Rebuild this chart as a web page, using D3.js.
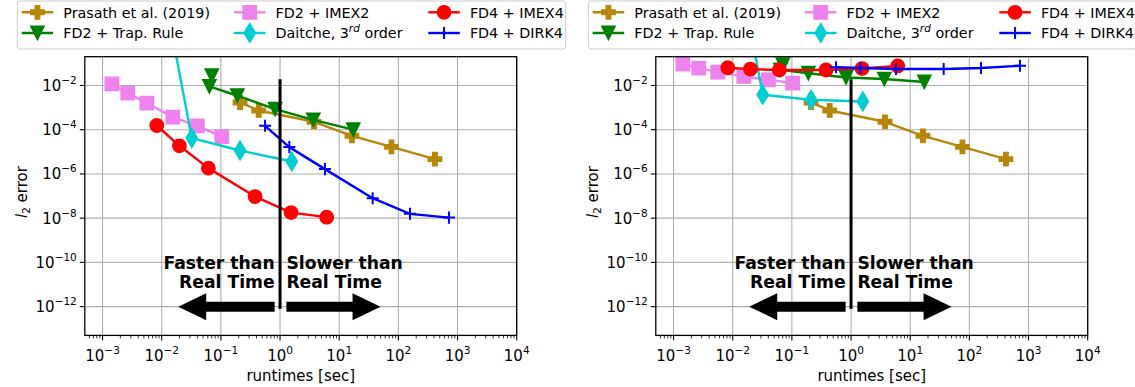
<!DOCTYPE html>
<html><head><meta charset="utf-8">
<script src="https://cdn.jsdelivr.net/npm/d3@7"></script>
<style>
html,body{margin:0;padding:0;background:#fff;}
text{font-family:"DejaVu Sans",sans-serif;}
</style></head>
<body>
<svg id="chart" width="1135" height="387"></svg>
<script>
// ---------------- DATA ----------------
const xTicks = [1e-3, 1e-2, 1e-1, 1e0, 1e1, 1e2, 1e3, 1e4];
const xTickExp = ["\u22123", "\u22122", "\u22121", "0", "1", "2", "3", "4"];
const yTicks = [1e-2, 1e-4, 1e-6, 1e-8, 1e-10, 1e-12];
const yTickExp = ["\u22122", "\u22124", "\u22126", "\u22128", "\u221210", "\u221212"];
const xDomain = [Math.pow(10, -3.3), 1e4];
const yDomain = [Math.pow(10, -13.3), Math.pow(10, -0.7)];

const seriesNames = ["Prasath et al. (2019)", "FD2 + Trap. Rule", "FD2 + IMEX2", "Daitche, 3rd order", "FD4 + IMEX4", "FD4 + DIRK4"];

const prasathTime = [0.211, 0.436, 3.75, 16.4, 76.4, 415];
const prasathErrA = [1.70e-3, 7.4e-4, 2.28e-4, 5.3e-5, 1.68e-5, 4.7e-6];
const prasathErrB = [1.70e-3, 7.4e-4, 2.28e-4, 5.3e-5, 1.68e-5, 4.7e-6];

const fd2TrapTime = [0.0702, 0.064, 0.19, 0.824, 3.65, 17.3];
const fd2TrapErrA = [0.0275, 9.0e-3, 3.42e-3, 8.55e-4, 2.8e-4, 1.0e-4];
const fd2TrapErrB = [0.0865, 0.051, 0.0356, 0.023, 0.0195, 0.0143];

const imex2Time = [1.44e-3, 2.67e-3, 5.6e-3, 1.54e-2, 4.0e-2, 0.1035];
const imex2ErrA = [1.19e-2, 4.5e-3, 1.6e-3, 3.7e-4, 1.5e-4, 4.9e-5];
const imex2ErrB = [0.093, 0.061, 0.040, 0.0255, 0.018, 0.0128];

const daitcheTime = [0.0134, 0.0322, 0.211, 1.58];
const daitcheErrA = [10, 4.17e-5, 1.15e-5, 3.64e-6];
const daitcheErrB = [900, 3.8e-3, 2.25e-3, 1.89e-3];

const imex4Time = [8.26e-3, 1.99e-2, 6.15e-2, 0.378, 1.535, 6.15];
const imex4ErrA = [1.55e-4, 1.87e-5, 1.83e-6, 9.5e-8, 1.79e-8, 1.11e-8];
const imex4ErrB = [0.063, 0.055, 0.050, 0.050, 0.058, 0.076];

const dirk4Time = [0.558, 1.436, 5.75, 36.8, 157, 716];
const dirk4ErrA = [1.5e-4, 1.63e-5, 1.65e-6, 8.0e-8, 1.57e-8, 1.06e-8];
const dirk4ErrB = [0.0667, 0.0612, 0.0552, 0.0552, 0.0612, 0.0778];

// reference line / annotations (data coordinates)
const realTime = 1;
const realTimeLine = [Math.pow(10, -12.1), Math.pow(10, -1.72)];
const arrowY = 1e-12;
const leftArrow = [0.81, 0.019];   // tail, tip
const rightArrow = [1.28, 50];
const textY = [Math.pow(10, -10.3), Math.pow(10, -11.15)];
const leftTextX = 0.81;
const rightTextX = 1.28;

// ---------------- STYLE ----------------
const styles = [
  {color: "#B8860B", marker: "P"},
  {color: "#008000", marker: "v"},
  {color: "#EE82EE", marker: "s"},
  {color: "#00CED1", marker: "d"},
  {color: "#FF0000", marker: "o"},
  {color: "#0000FF", marker: "+"}
];
const MS = 13.4;
const FS = 15, FSS = 10.5, FSB = 17.2, FSL = 14.3;

function markerPath(type, s) {
  const h = s / 2;
  switch (type) {
    case "P": {
      const u = s / 6;
      const pts = [[-1,-3],[1,-3],[1,-1],[3,-1],[3,1],[1,1],[1,3],[-1,3],[-1,1],[-3,1],[-3,-1],[-1,-1]];
      return "M" + pts.map(p => (p[0]*u) + "," + (p[1]*u)).join("L") + "Z";
    }
    case "v": return `M0,${h}L${-h},${-h}L${h},${-h}Z`;
    case "s": return `M${-h},${-h}H${h}V${h}H${-h}Z`;
    case "o": return `M${h},0A${h},${h} 0 1,1 ${-h},0A${h},${h} 0 1,1 ${h},0Z`;
    case "d": {
      const hh = s * 0.7071, hw = s * 0.7071 * 0.6;
      return `M0,${-hh}L${hw},0L0,${hh}L${-hw},0Z`;
    }
    case "+": {
      const g = s * 0.45;
      return `M${-g},0H${g}M0,${-g}V${g}`;
    }
  }
}

function drawMarker(g, type, color, x, y) {
  const p = g.append("path").attr("d", markerPath(type, MS)).attr("transform", `translate(${x},${y})`);
  if (type === "+") p.attr("fill", "none").attr("stroke", color).attr("stroke-width", 2);
  else p.attr("fill", color).attr("stroke", color).attr("stroke-width", 1.4).attr("stroke-linejoin", "miter");
}

const svg = d3.select("#chart");
svg.append("rect").attr("width", 1135).attr("height", 387).attr("fill", "#fff");

function drawPanel(offset, panelIdx, errs) {
  const x = d3.scaleLog().domain(xDomain).range([84.8 + offset, 516.7 + offset]);
  const y = d3.scaleLog().domain(yDomain).range([335.4, 56.7]);
  const [x0, x1] = x.range(), [y0, y1] = [y.range()[1], y.range()[0]];
  const g = svg.append("g");
  const clipId = "clip" + panelIdx;
  svg.append("clipPath").attr("id", clipId).append("rect")
    .attr("x", x0).attr("y", y0).attr("width", x1 - x0).attr("height", y1 - y0);

  // grid
  g.append("g").selectAll("line").data(xTicks).join("line")
    .attr("x1", d => x(d)).attr("x2", d => x(d)).attr("y1", y0).attr("y2", y1)
    .attr("stroke", "#b0b0b0").attr("stroke-width", 1.1);
  g.append("g").selectAll("line").data(yTicks).join("line")
    .attr("x1", x0).attr("x2", x1).attr("y1", d => y(d)).attr("y2", d => y(d))
    .attr("stroke", "#b0b0b0").attr("stroke-width", 1.1);

  // data
  const times = [prasathTime, fd2TrapTime, imex2Time, daitcheTime, imex4Time, dirk4Time];
  const dg = g.append("g").attr("clip-path", `url(#${clipId})`);
  const line = d3.line().x(d => x(d[0])).y(d => y(d[1]));
  times.forEach((t, i) => {
    const pts = t.map((v, k) => [v, errs[i][k]]);
    const sg = dg.append("g");
    sg.append("path").attr("d", line(pts)).attr("fill", "none")
      .attr("stroke", styles[i].color).attr("stroke-width", 2.4).attr("stroke-linejoin", "round");
    pts.forEach(p => drawMarker(sg, styles[i].marker, styles[i].color, x(p[0]), y(p[1])));
  });

  // real-time line
  g.append("line").attr("x1", x(realTime)).attr("x2", x(realTime))
    .attr("y1", y(realTimeLine[0])).attr("y2", y(realTimeLine[1]))
    .attr("stroke", "#000").attr("stroke-width", 3);

  // arrows
  function arrow(tail, tip) {
    const ty = y(arrowY), xt = x(tail), xh = x(tip);
    const dir = Math.sign(xh - xt), w = 5, hw = 13.5, hl = 28;
    const xb = xh - dir * hl;
    const pts = [[xt, ty - w], [xb, ty - w], [xb, ty - hw], [xh, ty], [xb, ty + hw], [xb, ty + w], [xt, ty + w]];
    g.append("path").attr("d", "M" + pts.map(p => p.join(",")).join("L") + "Z").attr("fill", "#000");
  }
  arrow(leftArrow[0], leftArrow[1]);
  arrow(rightArrow[0], rightArrow[1]);

  const tg = g.append("g").attr("font-weight", "bold").attr("font-size", FSB);
  tg.append("text").attr("x", x(leftTextX)).attr("y", y(textY[0])).attr("text-anchor", "end").text("Faster than");
  tg.append("text").attr("x", x(leftTextX)).attr("y", y(textY[1])).attr("text-anchor", "end").text("Real Time");
  tg.append("text").attr("x", x(rightTextX)).attr("y", y(textY[0])).attr("text-anchor", "start").text("Slower than");
  tg.append("text").attr("x", x(rightTextX)).attr("y", y(textY[1])).attr("text-anchor", "start").text("Real Time");

  // spines
  g.append("rect").attr("x", x0).attr("y", y0).attr("width", x1 - x0).attr("height", y1 - y0)
    .attr("fill", "none").attr("stroke", "#000").attr("stroke-width", 1.3);

  // x ticks
  const minor = [];
  for (let e = -4; e < 4; e++) for (let m = 2; m <= 9; m++) {
    const v = m * Math.pow(10, e);
    if (v >= xDomain[0] && v <= xDomain[1]) minor.push(v);
  }
  g.append("g").selectAll("line").data(minor).join("line")
    .attr("x1", d => x(d)).attr("x2", d => x(d)).attr("y1", y1).attr("y2", y1 + 3)
    .attr("stroke", "#000").attr("stroke-width", 0.8);
  g.append("g").selectAll("line").data(xTicks).join("line")
    .attr("x1", d => x(d)).attr("x2", d => x(d)).attr("y1", y1).attr("y2", y1 + 5)
    .attr("stroke", "#000").attr("stroke-width", 1.1);
  xTicks.forEach((d, i) => {
    const t = g.append("text").attr("x", x(d)).attr("y", 361).attr("text-anchor", "middle").attr("font-size", FS).attr("fill", "#000");
    t.append("tspan").text("10");
    t.append("tspan").attr("dy", -7).attr("font-size", FSS).text(xTickExp[i]);
  });
  // y ticks
  g.append("g").selectAll("line").data(yTicks).join("line")
    .attr("x1", x0 - 5).attr("x2", x0).attr("y1", d => y(d)).attr("y2", d => y(d))
    .attr("stroke", "#000").attr("stroke-width", 1.1);
  yTicks.forEach((d, i) => {
    const t = g.append("text").attr("x", x0 - 8).attr("y", y(d) + 5.5).attr("text-anchor", "end").attr("font-size", FS).attr("fill", "#000");
    t.append("tspan").text("10");
    t.append("tspan").attr("dy", -7).attr("font-size", FSS).text(yTickExp[i]);
  });

  // axis labels
  g.append("text").attr("x", (x0 + x1) / 2).attr("y", 381).attr("text-anchor", "middle").attr("font-size", FS).text("runtimes [sec]");
  const yl = g.append("text").attr("transform", `translate(${offset + 27},${(y0 + y1) / 2 - 4}) rotate(-90)`)
    .attr("text-anchor", "middle").attr("font-size", FS);
  yl.append("tspan").attr("font-style", "italic").text("l");
  yl.append("tspan").attr("dy", 3).attr("font-size", FSS).text("2");
  yl.append("tspan").attr("dy", -3).text(" error");

  // legend
  const lg = svg.append("g");
  lg.append("rect").attr("x", 17.3 + offset).attr("y", 1).attr("width", 548.4).attr("height", 48)
    .attr("rx", 3).attr("fill", "#fff").attr("fill-opacity", 0.8).attr("stroke", "#cccccc").attr("stroke-width", 1);
  const colHandle = [21.7, 234, 428.3];
  const rowY = [12.3, 33];
  seriesNames.forEach((name, i) => {
    const c = Math.floor(i / 2), r = i % 2;
    const hx = colHandle[c] + offset, yy = rowY[r];
    lg.append("line").attr("x1", hx).attr("x2", hx + 31.5).attr("y1", yy).attr("y2", yy)
      .attr("stroke", styles[i].color).attr("stroke-width", 2.4);
    drawMarker(lg, styles[i].marker, styles[i].color, hx + 15.75, yy);
    const t = lg.append("text").attr("x", hx + 41.6).attr("y", yy + 5.3).attr("font-size", FSL);
    if (i === 3) {
      t.append("tspan").text("Daitche, 3");
      t.append("tspan").attr("dy", -6.5).attr("font-size", FSS).attr("font-style", "italic").text("rd");
      t.append("tspan").attr("dy", 6.5).text(" order");
    } else t.text(name);
  });
}

drawPanel(0, 0, [prasathErrA, fd2TrapErrA, imex2ErrA, daitcheErrA, imex4ErrA, dirk4ErrA]);
drawPanel(571, 1, [prasathErrB, fd2TrapErrB, imex2ErrB, daitcheErrB, imex4ErrB, dirk4ErrB]);
</script>
</body></html>
